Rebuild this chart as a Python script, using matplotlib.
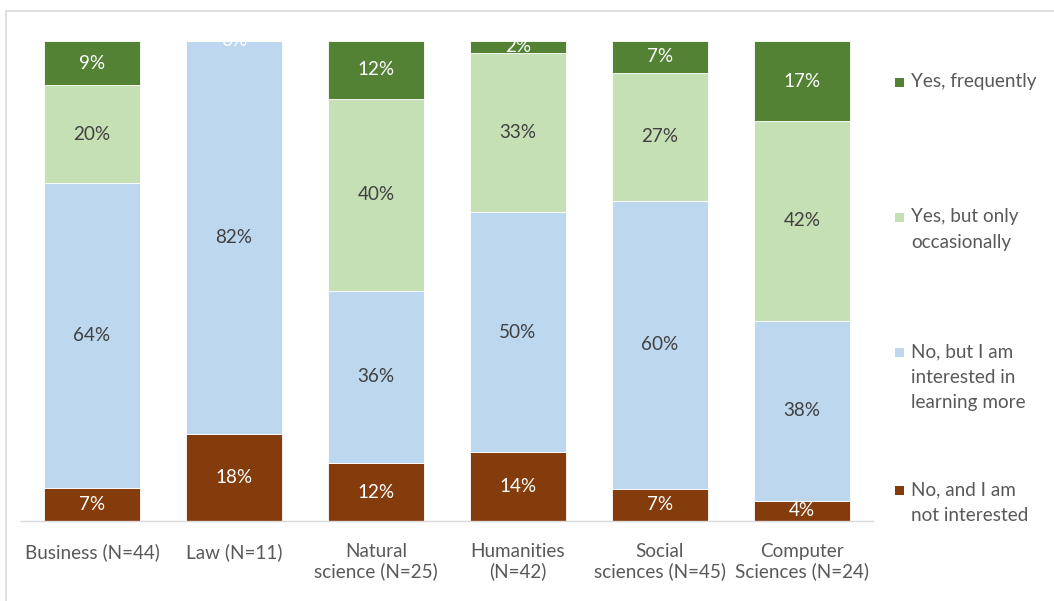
import matplotlib
matplotlib.use("Agg")
import matplotlib.pyplot as plt
from matplotlib.patches import Rectangle
from matplotlib.lines import Line2D

plt.rcParams['font.family'] = ['Lato', 'DejaVu Sans']

categories = ["Business (N=44)", "Law (N=11)", "Natural\nscience (N=25)",
              "Humanities\n(N=42)", "Social\nsciences (N=45)", "Computer\nSciences (N=24)"]

# Shares in percent, bottom segment first
not_interested = [6.8, 18.2, 12.0, 14.3, 6.7, 4.2]
interested     = [63.6, 81.8, 36.0, 50.0, 60.0, 37.5]
occasionally   = [20.4, 0.0, 40.0, 33.3, 26.7, 41.6]
frequently     = [9.1, 0.0, 12.0, 2.4, 6.7, 16.7]

series_names = ["No, and I am\nnot interested",
                "No, but I am\ninterested in\nlearning more",
                "Yes, but only\noccasionally",
                "Yes, frequently"]
series_values = [not_interested, interested, occasionally, frequently]
colors = ["#843C0C", "#BDD7EE", "#C5E0B4", "#548235"]
text_colors = ["white", "#404040", "#404040", "white"]

FS = 13.6
W, H = 1054, 601
fig = plt.figure(figsize=(W / 100, H / 100), dpi=100)
ax = fig.add_axes([21 / W, 1 - 521 / H, (873 - 21) / W, (521 - 41) / H])

x = list(range(len(categories)))
bottom = [0.0] * len(categories)
for vals, col, tcol in zip(series_values, colors, text_colors):
    ax.bar(x, vals, width=0.67, bottom=bottom, color=col,
           edgecolor="white", linewidth=0.6)
    for xi, v, b in zip(x, vals, bottom):
        if v == 0 and col != "#548235":
            continue
        ax.text(xi, b + v / 2, f"{v:.0f}%", ha="center", va="center",
                color=tcol, fontsize=FS, clip_on=False)
    bottom = [b + v for b, v in zip(bottom, vals)]

ax.set_xlim(-0.5, len(categories) - 0.5)
ax.set_ylim(0, 100)
for s in ["top", "right", "left"]:
    ax.spines[s].set_visible(False)
ax.spines["bottom"].set_color("#D9D9D9")
ax.spines["bottom"].set_linewidth(1.0)
ax.set_yticks([])
ax.set_xticks(x)
ax.set_xticklabels(categories, color="#595959", fontsize=FS, linespacing=1.15)
ax.tick_params(axis="x", length=0, pad=16)

# Legend, top entry first
legend_tops = [73, 208, 343, 481]
for name, col, top in zip(series_names[::-1], colors[::-1], legend_tops):
    fig.add_artist(Rectangle((895 / W, 1 - (top + 14) / H), 9 / W, 9 / H,
                             transform=fig.transFigure, facecolor=col,
                             edgecolor="none"))
    fig.text(911 / W, 1 - top / H, name, ha="left", va="top",
             color="#595959", fontsize=FS, linespacing=1.62)

# Chart frame
fig.add_artist(Line2D([6 / W, 1], [1 - 10.5 / H, 1 - 10.5 / H],
                      transform=fig.transFigure, color="#D9D9D9", lw=1.2))
fig.add_artist(Line2D([6 / W, 6 / W], [1 - 10.5 / H, 0],
                      transform=fig.transFigure, color="#D9D9D9", lw=1.2))

fig.savefig("out.png", dpi=100)
